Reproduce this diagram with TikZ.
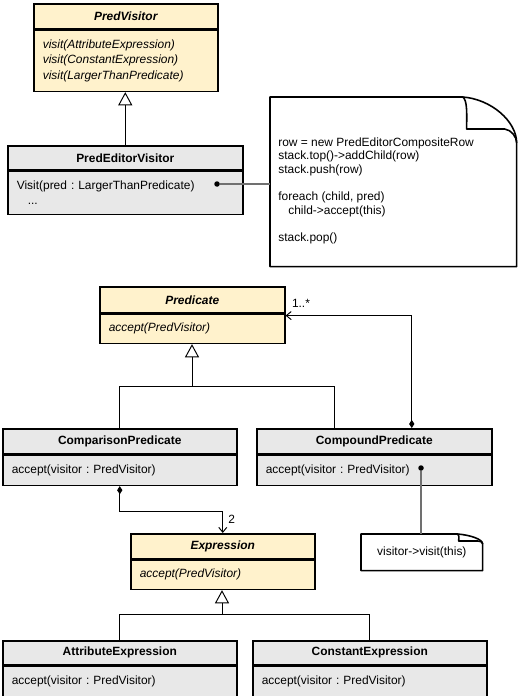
\documentclass[tikz,border=0pt]{standalone}
\usepackage{fontspec}
\setmainfont{Liberation Sans}
\usetikzlibrary{positioning,arrows.meta,calc}
\frenchspacing

\definecolor{ifacefill}{HTML}{FFF2CC}
\definecolor{classfill}{HTML}{E8E8E8}
\definecolor{linkgray}{HTML}{707070}

\begin{document}
\begin{tikzpicture}[
    x=0.02cm, y=-0.02cm,
    every node/.style={font=\fontsize{6.8}{8.8}\selectfont},
    head/.style={
        draw, line width=0.9pt, inner sep=0pt, anchor=north west,
        fill=classfill, font=\fontsize{6.8}{8.8}\selectfont\bfseries
    },
    ihead/.style={
        head, fill=ifacefill,
        font=\fontsize{6.8}{8.8}\selectfont\bfseries\itshape
    },
    body/.style={
        draw, line width=0.9pt, inner sep=0pt,
        fill=classfill, align=left
    },
    ibody/.style={
        body, fill=ifacefill,
        font=\fontsize{6.8}{8.8}\selectfont\itshape
    },
    notearea/.style={inner sep=0pt, anchor=north west},
    noteborder/.style={line width=0.9pt, line join=round},
    dot/.style={circle, fill=black, inner sep=0pt, minimum size=0.11cm},
    link/.style={line width=0.55pt},
    notelink/.style={line width=0.8pt, draw=linkgray},
    inherit/.style={link, -{Triangle[length=7.5pt, width=8pt, fill=white]}},
    compose/.style={link,
        {Diamond[length=4.6pt, width=3pt]}-{Straight Barb[length=2.8pt, width=4.6pt]}}
]
\useasboundingbox (0,0) rectangle (518,696);

% Visitor
\node[ihead, minimum width=3.68cm, minimum height=0.5cm] (pv) at (33,3) {PredVisitor};
\node[ibody, minimum width=3.68cm, minimum height=1.22cm, text width=3.32cm,
    below=0pt of pv] (pvb)
    {visit(AttributeExpression)\\visit(ConstantExpression)\\visit(LargerThanPredicate)};

\node[head, minimum width=4.7cm, minimum height=0.48cm] (pev) at (7,145) {PredEditorVisitor};
\node[body, minimum width=4.7cm, minimum height=0.86cm, text width=4.34cm,
    below=0pt of pev] (pevb)
    {Visit(pred : LargerThanPredicate)\\\hspace*{0.22cm}...};

\draw[inherit] (pev.north) -- (pev.north |- pvb.south);

% Notiz zu Visit()
\node[notearea, minimum width=4.92cm, minimum height=3.38cm] (note) at (270,97) {};
\node[inner sep=0pt, anchor=north west, align=left,
    font=\fontsize{6.8}{7.8}\selectfont] (notetxt) at (278,137)
    {row = new PredEditorCompositeRow\\
     stack.top()->addChild(row)\\
     stack.push(row)\\[7.8pt]
     foreach (child, pred)\\
     \hspace*{0.2cm}child->accept(this)\\[7.8pt]
     stack.pop()};
\draw[noteborder] (note.north west) -- ($(note.north east)+(-54,0)$)
    .. controls +(28,2) and +(0,-22) .. ($(note.north east)+(0,46)$)
    -- (note.south east) -- (note.south west) -- cycle;
\draw[noteborder] ($(note.north east)+(-54,0)$)
    .. controls +(5,3) and +(0,-14) .. ($(note.north east)+(-50,32)$)
    -- ($(note.north east)+(-12,32)$)
    .. controls +(7,1) and +(0,-6) .. ($(note.north east)+(0,46)$);

\node[dot] (d1) at (217,184) {};
\draw[notelink] (d1) -- (d1 -| note.west);

% Praedikate
\node[ihead, minimum width=3.7cm, minimum height=0.52cm] (pred) at (99,286) {Predicate};
\node[ibody, minimum width=3.7cm, minimum height=0.58cm, text width=3.34cm,
    below=0pt of pred] (predb) {accept(PredVisitor)};

\node[head, minimum width=4.68cm, minimum height=0.5cm] (cmp) at (2,428) {ComparisonPredicate};
\node[body, minimum width=4.68cm, minimum height=0.6cm, text width=4.32cm,
    below=0pt of cmp] (cmpb) {accept(visitor : PredVisitor)};

\node[head, minimum width=4.7cm, minimum height=0.5cm] (cpd) at (256,428) {CompoundPredicate};
\node[body, minimum width=4.7cm, minimum height=0.6cm, text width=4.34cm,
    below=0pt of cpd] (cpdb) {accept(visitor : PredVisitor)};

\coordinate (pj) at (192,386);
\draw[inherit] (cmp.north) |- (pj) -- (pj |- predb.south);
\draw[link] (pj) -| ([xshift=-0.79cm]cpd.north);

\draw[compose] ([xshift=0.75cm]cpd.north) |- ([yshift=-0.04cm]pred.south east)
    node[pos=1, above right=0.16cm and 0.12cm, inner sep=0pt] (mulp) {1..*};

% Notiz zu accept()
\node[dot] (d2) at (421,468) {};
\node[notearea, minimum width=2.42cm, minimum height=0.72cm, anchor=north west] (vnote)
    at (361,534) {visitor->visit(this)};
\draw[noteborder] (vnote.north west) -- ($(vnote.north east)+(-25,0)$)
    .. controls +(12,1) and +(0,-5) .. ($(vnote.north east)+(0,10)$)
    -- (vnote.south east) -- (vnote.south west) -- cycle;
\draw[noteborder] ($(vnote.north east)+(-25,0)$)
    .. controls +(2,1) and +(0,-4) .. ($(vnote.north east)+(-24,7)$)
    -- ($(vnote.north east)+(-5,7)$)
    .. controls +(3,0) and +(0,-2) .. ($(vnote.north east)+(0,10)$);
\draw[notelink] (d2) -- (d2 |- vnote.north);

% Ausdruecke
\node[ihead, minimum width=3.68cm, minimum height=0.5cm] (exp) at (130,533) {Expression};
\node[ibody, minimum width=3.68cm, minimum height=0.58cm, text width=3.32cm,
    below=0pt of exp] (expb) {accept(PredVisitor)};

\draw[compose] (cmpb.south) -- ++(0,25) -|
    node[pos=0.68, right=0.1cm, inner sep=0pt] (mul2) {2} (exp.north);

\node[head, minimum width=4.68cm, minimum height=0.48cm] (attr) at (2,640) {AttributeExpression};
\node[body, minimum width=4.68cm, minimum height=0.6cm, text width=4.32cm,
    below=0pt of attr] (attrb) {accept(visitor : PredVisitor)};

\node[head, minimum width=4.68cm, minimum height=0.48cm] (const) at (252,640) {ConstantExpression};
\node[body, minimum width=4.68cm, minimum height=0.6cm, text width=4.32cm,
    below=0pt of const] (constb) {accept(visitor : PredVisitor)};

\coordinate (ej) at (222,614);
\draw[inherit] (attr.north) |- (ej) -- (ej |- expb.south);
\draw[link] (ej) -| (const.north);

\end{tikzpicture}
\end{document}
